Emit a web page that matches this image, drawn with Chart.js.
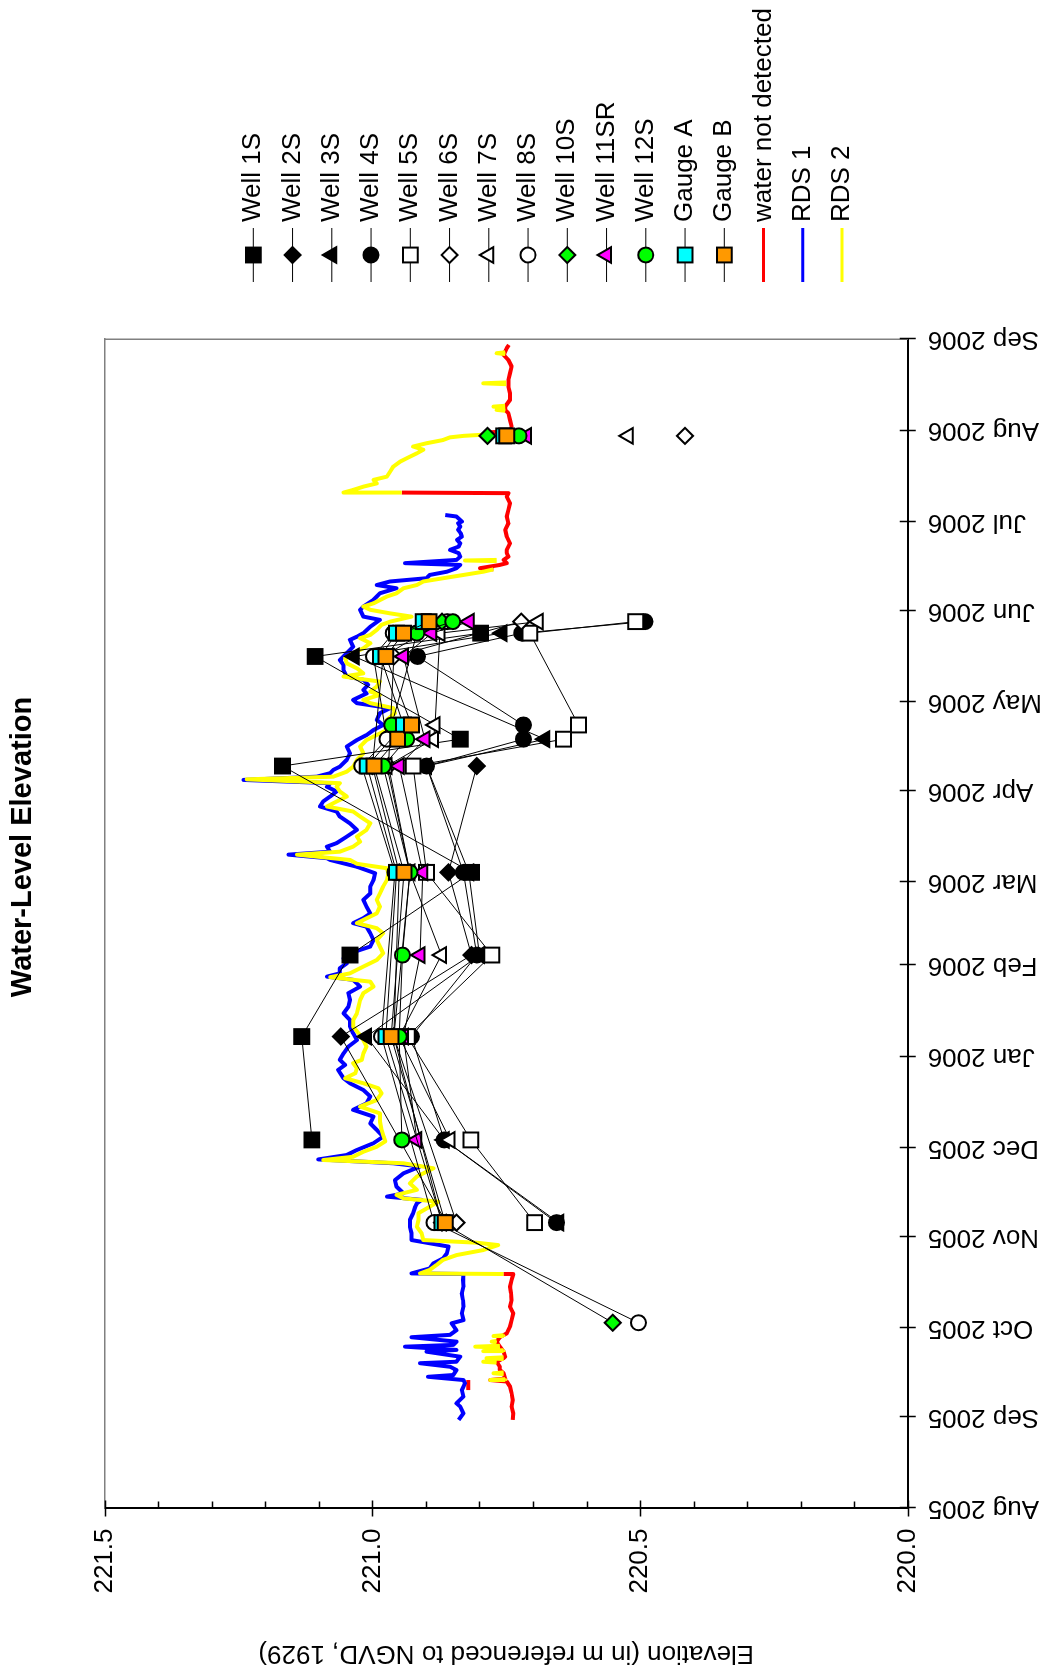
<!DOCTYPE html>
<html>
<head>
<meta charset="utf-8">
<title>Water-Level Elevation</title>
<script src="https://cdn.jsdelivr.net/npm/chart.js@4.4.1/dist/chart.umd.min.js"></script>
<style>
  html, body { margin: 0; padding: 0; background: #fff; overflow: hidden; }
  /* chart is drawn landscape, then turned a quarter to fit the portrait page */
  #page {
    position: absolute; left: 0; top: 0;
    width: 1675px; height: 1045px;
    transform-origin: 0 0;
    transform: translate(0, 1675px) rotate(-90deg);
  }
</style>
</head>
<body>
<div id="page"><canvas id="levelChart" width="1675" height="1045" style="width:1675px;height:1045px"></canvas></div>
<script>
// time axis counted in days from 1 Aug 2005
const monthTicks = [0, 31, 61, 92, 122, 153, 184, 212, 243, 273, 304, 334, 365, 396];
const monthLabels = ['Aug 2005', 'Sep 2005', 'Oct 2005', 'Nov 2005', 'Dec 2005', 'Jan 2006', 'Feb 2006',
                     'Mar 2006', 'Apr 2006', 'May 2006', 'Jun 2006', 'Jul 2006', 'Aug 2006', 'Sep 2006'];
const elevTicks = [220.0, 220.5, 221.0, 221.5];

// well / gauge survey days
const sampleDays = [62.9, 96.8, 124.8, 159.8, 187.4, 215.4, 251.4, 260.5, 265.3, 288.5, 296.4, 300.3, 363.2];

const well1S  = [null, null, 221.113, 221.132, 221.042, 220.815, 221.168, 220.836, null, 221.107, 220.798, null, null];
const well2S  = [null, 220.862, null, 221.059, 220.815, 220.858, 220.805, null, null, null, null, null, null];
const well3S  = [null, 220.652, 220.866, 221.011, 220.800, 220.820, 220.899, 220.678, null, 221.034, 220.758, null, null];
const well4S  = [null, 220.656, 220.866, 220.927, 220.805, 220.830, 220.899, 220.718, 220.718, 220.916, 220.721, 220.491, null];
const well5S  = [null, 220.697, 220.816, 220.935, 220.777, 220.899, 220.924, 220.643, 220.615, null, 220.706, 220.508, null];
const well6S  = [null, 220.843, null, 220.960, null, 220.930, 220.970, null, null, 220.960, null, 220.722, 220.416];
const well7S  = [null, null, 220.855, 220.950, 220.871, 220.930, 220.973, 220.886, 220.883, null, 220.874, 220.690, 220.522];
const well8S  = [220.503, 220.885, null, 220.983, null, 220.958, 221.020, 220.973, null, 220.998, 220.961, 220.860, null];
const well10S = [220.551, 220.870, null, 220.960, null, 220.950, 221.000, null, null, 220.980, null, 220.870, 220.785];
const well11SR = [null, null, 220.917, 220.942, 220.911, 220.906, 220.950, 220.902, null, 220.942, 220.889, 220.819, 220.712];
const well12S = [null, null, 220.945, 220.950, 220.944, 220.930, 220.980, 220.936, 220.964, null, 220.917, 220.850, 220.726];
const gaugeA  = [null, 220.870, null, 220.975, null, 220.955, 221.010, null, 220.942, 220.985, 220.955, 220.905, 220.755];
const gaugeB  = [null, 220.864, null, 220.965, null, 220.941, 220.997, 220.953, 220.927, 220.975, 220.942, 220.894, 220.749];

// recorder traces, [day, elevation]; a null elevation breaks the trace
const rds1 = [
  [30.0, 220.839], [32.2, 220.830], [34.5, 220.836], [35.6, 220.843], [37.9, 220.830], [40.1, 220.833], [42.4, 220.827],
  [43.5, 220.830], [44.6, 220.896], [45.2, 220.849], [46.9, 220.843], [48.0, 220.855], [49.2, 220.911], [49.7, 220.843],
  [51.4, 220.836], [53.1, 220.899], [53.7, 220.843], [54.8, 220.939], [55.4, 220.849], [56.5, 220.843], [58.0, 220.927],
  [58.8, 220.855], [60.4, 220.843], [62.7, 220.852], [63.8, 220.830], [66.1, 220.833], [68.3, 220.830], [70.6, 220.831],
  [72.9, 220.833], [75.1, 220.830], [77.4, 220.831], [79.4, 220.830], [79.6, 220.927], [81.3, 220.893], [83.0, 220.886],
  [84.7, 220.868], [86.4, 220.861], [88.7, 220.858], [90.9, 220.927], [93.2, 220.927], [95.4, 220.930], [97.7, 220.930],
  [100.0, 220.924], [102.2, 220.920], [103.3, 220.917], [104.5, 220.908], [105.6, 220.973], [106.7, 220.942], [109.0, 220.955],
  [111.2, 220.958], [113.5, 220.942], [115.8, 220.911], [116.9, 220.961], [118.2, 221.101], [119.7, 221.048], [121.4, 221.029],
  [123.7, 220.998], [125.9, 220.980], [128.2, 220.992], [130.4, 221.004], [132.7, 220.998], [135.0, 221.036], [137.2, 221.011],
  [139.5, 221.004], [141.7, 221.017], [144.0, 221.042], [145.7, 221.054], [148.5, 221.064], [150.2, 221.051], [151.9, 221.061],
  [154.1, 221.054], [156.4, 221.045], [158.6, 221.029], [160.9, 221.036], [163.2, 221.042], [165.4, 221.042], [167.7, 221.054],
  [169.9, 221.045], [172.2, 221.042], [174.5, 221.045], [176.7, 221.023], [177.8, 221.029], [179.0, 221.036], [180.1, 221.085],
  [181.2, 221.061], [182.9, 221.061], [184.6, 221.048], [186.3, 221.054], [188.0, 221.042], [190.3, 221.004], [192.5, 220.998],
  [194.8, 221.004], [197.0, 221.011], [198.2, 221.036], [199.9, 221.017], [201.5, 221.004], [203.8, 221.011], [206.1, 221.017],
  [208.3, 221.004], [210.6, 221.004], [212.8, 220.998], [215.1, 220.995], [217.3, 221.029], [217.9, 221.042], [219.6, 221.079],
  [220.2, 221.085], [221.4, 221.157], [222.4, 221.079], [224.1, 221.085], [225.3, 221.067], [227.5, 221.048], [229.8, 221.029],
  [232.0, 221.042], [234.3, 221.061], [236.0, 221.067], [237.7, 221.098], [239.4, 221.092], [241.1, 221.079], [242.8, 221.067],
  [244.4, 221.085], [245.6, 221.079], [246.7, 221.241], [247.8, 221.104], [249.0, 221.079], [250.1, 221.073], [251.2, 221.061],
  [253.5, 221.048], [255.7, 221.042], [258.0, 221.048], [260.2, 221.029], [261.9, 221.011], [263.6, 220.998], [265.3, 220.980],
  [267.0, 220.992], [269.3, 220.986], [271.0, 220.967], [272.7, 221.029], [273.8, 221.036], [276.0, 221.011], [277.2, 221.017],
  [278.9, 221.008], [280.6, 221.017], [281.7, 221.048], [283.9, 221.054], [285.6, 221.054], [287.3, 221.061], [289.6, 221.048],
  [291.8, 221.036], [294.1, 221.042], [295.2, 221.029], [296.4, 221.017], [298.6, 221.004], [300.9, 220.986], [302.0, 221.017],
  [304.3, 221.023], [305.4, 221.017], [307.7, 220.998], [308.8, 220.992], [309.9, 220.986], [311.6, 220.955], [312.7, 220.992],
  [313.9, 220.967], [315.0, 220.899], [316.1, 220.893], [317.2, 220.861], [318.4, 220.843], [319.5, 220.836], [320.1, 220.939],
  [321.2, 220.843], [322.3, 220.836], [323.5, 220.839], [324.6, 220.855], [325.7, 220.839], [326.8, 220.836], [328.0, 220.842],
  [329.1, 220.833], [330.2, 220.835], [331.4, 220.840], [332.5, 220.836], [333.6, 220.840], [334.2, 220.833], [335.9, 220.843],
  [336.4, 220.864]
];

const rds2 = [
  [43.2, 220.752], [43.5, 220.780], [43.8, 220.752], [43.9, null],
  [45.5, 220.755], [45.8, 220.774], [46.1, 220.755], [46.2, null],
  [49.4, 220.768], [49.7, 220.793], [50.0, 220.768], [50.1, null],
  [50.6, 220.755], [50.9, 220.787], [51.2, 220.755], [51.3, null],
  [53.0, 220.755], [53.3, 220.793], [53.6, 220.755], [53.7, null],
  [54.5, 220.762], [54.8, 220.808], [55.1, 220.762], [55.2, null],
  [56.2, 220.768], [56.5, 220.777], [56.8, 220.768], [56.9, null],
  [58.1, 220.755], [58.4, 220.774], [58.7, 220.755], [58.8, null],
  [79.4, 220.755], [79.6, 220.911], [80.8, 220.893], [82.5, 220.880], [84.2, 220.868], [85.8, 220.843], [87.5, 220.793],
  [89.2, 220.765], [90.0, 220.805], [90.9, 220.905], [93.2, 220.908], [95.4, 220.917], [97.7, 220.914], [100.0, 220.914],
  [102.2, 220.893], [103.9, 220.877], [105.0, 220.942], [106.2, 220.955], [107.9, 220.917], [110.1, 220.930], [112.4, 220.917],
  [115.2, 220.886], [116.9, 220.942], [118.0, 221.092], [119.1, 221.036], [120.8, 221.017], [122.5, 220.992], [124.3, 220.976],
  [126.5, 220.980], [128.2, 220.983], [131.0, 220.986], [133.8, 220.986], [136.1, 221.023], [138.3, 220.992], [140.6, 220.983],
  [142.3, 220.989], [144.0, 221.017], [145.7, 221.051], [147.4, 221.032], [149.1, 221.029], [150.8, 221.036], [151.9, 221.020],
  [154.1, 221.017], [156.4, 221.011], [158.6, 221.017], [160.9, 221.026], [163.2, 221.036], [165.4, 221.036], [167.7, 221.029],
  [169.9, 221.026], [172.2, 221.023], [174.5, 221.017], [176.7, 220.998], [178.4, 221.004], [179.9, 221.079], [181.2, 221.042],
  [183.5, 221.017], [185.7, 220.992], [188.0, 220.980], [190.3, 220.986], [192.5, 220.992], [194.8, 220.980], [196.5, 220.992],
  [198.2, 221.029], [199.3, 221.017], [201.5, 220.992], [203.8, 220.986], [206.1, 220.992], [208.3, 220.986], [210.6, 220.980],
  [212.8, 220.973], [215.1, 220.970], [216.8, 220.973], [218.3, 221.029], [219.6, 221.042], [221.4, 221.141], [222.4, 221.061],
  [224.1, 221.036], [225.8, 221.023], [227.5, 221.029], [229.8, 221.011], [232.0, 221.004], [234.3, 221.023], [236.0, 221.036],
  [237.7, 221.085], [239.4, 221.067], [241.1, 221.048], [242.8, 221.061], [244.4, 221.067], [245.6, 221.061], [246.9, 221.235],
  [247.8, 221.073], [249.5, 221.048], [251.2, 221.036], [253.5, 221.029], [255.7, 221.017], [258.0, 221.023], [260.2, 221.011],
  [261.9, 220.992], [263.6, 220.973], [267.0, 220.973], [269.3, 220.958], [271.0, 220.961], [272.7, 221.004], [273.8, 221.017],
  [275.5, 220.986], [276.6, 221.004], [278.3, 220.992], [280.0, 220.986], [281.7, 221.054], [282.8, 221.017], [284.5, 221.029],
  [286.2, 221.048], [287.9, 221.051], [289.6, 221.036], [291.3, 221.017], [293.0, 221.004], [294.7, 221.023], [295.8, 221.004],
  [297.5, 220.992], [299.2, 220.983], [300.3, 220.967], [302.0, 220.927], [303.1, 220.967], [304.3, 221.004], [305.4, 221.017],
  [306.5, 220.998], [308.8, 220.973], [309.9, 220.955], [311.6, 220.942], [312.7, 220.917], [313.9, 220.905], [315.0, 220.868],
  [316.1, 220.830], [317.2, 220.793], [318.0, 220.774], [318.1, null],
  [320.8, 220.768], [321.0, 220.827], [321.2, 220.768], [321.3, null],
  [344.0, 220.945], [344.0, 221.054], [344.9, 221.036], [346.0, 221.017], [347.1, 220.992], [348.3, 220.998], [349.4, 220.973],
  [351.1, 220.967], [352.8, 220.961], [354.5, 220.948], [355.6, 220.936], [357.3, 220.917], [358.5, 220.905], [359.6, 220.924],
  [360.7, 220.899], [361.8, 220.868], [362.7, 220.855], [363.2, 220.830], [363.6, 220.793], [364.4, 220.785], [364.5, null],
  [371.7, 220.752], [372.0, 220.768], [372.3, 220.752], [372.4, null],
  [372.8, 220.752], [373.1, 220.774], [373.4, 220.752], [373.5, null],
  [380.7, 220.750], [381.0, 220.793], [381.3, 220.750], [381.4, null],
  [390.9, 220.752], [391.2, 220.768], [391.5, 220.752]
];

const notDetected = [
  [30.0, 220.738], [32.2, 220.737], [34.5, 220.740], [36.7, 220.738], [39.0, 220.740], [41.3, 220.743], [43.0, 220.749],
  [43.5, 220.780], [44.0, 220.752], [45.8, 220.755], [46.9, 220.762], [48.0, 220.762], [49.7, 220.768], [50.9, 220.755],
  [51.4, 220.752], [53.1, 220.755], [54.8, 220.762], [56.5, 220.768], [58.0, 220.762], [59.3, 220.749], [61.6, 220.743],
  [63.8, 220.740], [66.1, 220.737], [68.3, 220.743], [70.6, 220.740], [72.9, 220.741], [75.1, 220.743], [77.4, 220.740],
  [79.3, 220.737], [79.4, 220.755], [79.5, null],
  [318.0, 220.774], [318.4, 220.799], [319.5, 220.762], [320.1, 220.749], [321.2, 220.755], [322.3, 220.746], [323.5, 220.749],
  [324.6, 220.749], [326.8, 220.743], [329.1, 220.749], [331.4, 220.752], [333.6, 220.746], [335.9, 220.749], [338.1, 220.746],
  [340.4, 220.743], [342.6, 220.749], [343.8, 220.746], [344.0, 220.945], [344.1, null],
  [364.4, 220.785], [364.7, 220.742], [366.4, 220.740], [368.6, 220.743], [370.9, 220.746], [372.0, 220.752], [373.1, 220.752],
  [375.4, 220.743], [377.6, 220.743], [379.9, 220.746], [382.1, 220.746], [384.4, 220.743], [386.7, 220.740], [388.9, 220.746],
  [390.6, 220.755], [392.9, 220.749], [394.0, 220.745], [394.1, null],
  [40.1, 220.821], [43.5, 220.821]
];

const FONT = '"Liberation Sans", Arial, Helvetica, sans-serif';
Chart.defaults.font.family = FONT;
Chart.defaults.color = '#000';

// marker look for each well / gauge
const wellSeries = [
  { label: 'Well 1S',   values: well1S,   style: 'rect',     radius: 10.5, fill: '#000000' },
  { label: 'Well 2S',   values: well2S,   style: 'rectRot',  radius: 8,    fill: '#000000' },
  { label: 'Well 3S',   values: well3S,   style: 'triangle', radius: 9,    fill: '#000000' },
  { label: 'Well 4S',   values: well4S,   style: 'circle',   radius: 7.5,  fill: '#000000' },
  { label: 'Well 5S',   values: well5S,   style: 'rect',     radius: 10.5, fill: '#ffffff' },
  { label: 'Well 6S',   values: well6S,   style: 'rectRot',  radius: 8,    fill: '#ffffff' },
  { label: 'Well 7S',   values: well7S,   style: 'triangle', radius: 9,    fill: '#ffffff' },
  { label: 'Well 8S',   values: well8S,   style: 'circle',   radius: 7.5,  fill: '#ffffff' },
  { label: 'Well 10S',  values: well10S,  style: 'rectRot',  radius: 8,    fill: '#00ff00' },
  { label: 'Well 11SR', values: well11SR, style: 'triangle', radius: 9,    fill: '#ff00ff' },
  { label: 'Well 12S',  values: well12S,  style: 'circle',   radius: 7.5,  fill: '#00ff00' },
  { label: 'Gauge A',   values: gaugeA,   style: 'rect',     radius: 10.5, fill: '#00ffff' },
  { label: 'Gauge B',   values: gaugeB,   style: 'rect',     radius: 10.5, fill: '#ff9900' }
];

const traceSeries = [
  { label: 'water not detected', points: notDetected, color: '#ff0000', order: 30 },
  { label: 'RDS 1', points: rds1, color: '#0000ff', order: 20 },
  { label: 'RDS 2', points: rds2, color: '#ffff00', order: 10 }
];

// the late-July survey stands alone: no tie line back to the May visits
const hideLongGap = ctx => (ctx.p1.parsed.x - ctx.p0.parsed.x > 50 ? 'rgba(0,0,0,0)' : undefined);

const datasets = [
  ...wellSeries.map((w, i) => ({
    label: w.label,
    data: sampleDays.map((d, j) => ({ x: d, y: w.values[j] })),
    xAxisID: 'x', yAxisID: 'y',
    borderColor: '#000', borderWidth: 1,
    segment: { borderColor: hideLongGap },
    pointStyle: w.style, pointRadius: w.radius,
    pointBackgroundColor: w.fill, pointBorderColor: '#000', pointBorderWidth: 2,
    spanGaps: true, order: -i
  })),
  ...traceSeries.map(t => ({
    label: t.label,
    data: t.points.map(p => ({ x: p[0], y: p[1] })),
    xAxisID: 'x', yAxisID: 'y',
    borderColor: t.color, borderWidth: 4, borderJoinStyle: 'round',
    pointRadius: 0, spanGaps: false, tension: 0, order: t.order
  }))
];

// major / minor tick marks that cross the axis lines
const axisMarks = {
  id: 'axisMarks',
  afterDraw(chart) {
    const { ctx, chartArea: a, scales: { x, y } } = chart;
    ctx.save();
    ctx.strokeStyle = '#000';
    ctx.lineWidth = 1.5;
    ctx.beginPath();
    for (let k = 0; k <= 15; k++) {
      const py = Math.round(y.getPixelForValue(220 + k / 10)) + 0.5;
      if (k % 5 === 0) { ctx.moveTo(a.left - 8, py); ctx.lineTo(a.left + 8, py); }
      else { ctx.moveTo(a.left, py); ctx.lineTo(a.left + 7, py); }
    }
    monthTicks.forEach(d => {
      const px = Math.round(x.getPixelForValue(d)) + 0.5;
      ctx.moveTo(px, a.bottom - 8);
      ctx.lineTo(px, a.bottom + 8);
    });
    ctx.stroke();
    ctx.restore();
  }
};

// legend to the right: a short line with the marker in the middle
const sideLegend = {
  id: 'sideLegend',
  afterDraw(chart) {
    const { ctx, chartArea: a } = chart;
    ctx.save();
    ctx.font = '26px ' + FONT;
    ctx.textBaseline = 'middle';
    chart.data.datasets.forEach((ds, i) => {
      const cy = a.top + 148.5 + 39.25 * i;
      const x0 = a.right + 57, x1 = a.right + 111, cx = a.right + 84;
      ctx.beginPath();
      ctx.moveTo(x0, cy);
      ctx.lineTo(x1, cy);
      ctx.strokeStyle = ds.borderColor;
      ctx.lineWidth = ds.pointRadius > 0 ? 1 : 3;
      ctx.stroke();
      if (ds.pointRadius > 0) {
        ctx.fillStyle = ds.pointBackgroundColor;
        ctx.strokeStyle = '#000';
        ctx.lineWidth = 2;
        Chart.helpers.drawPoint(ctx, { pointStyle: ds.pointStyle, radius: ds.pointRadius, rotation: 0, borderWidth: 2 }, cx, cy);
      }
      ctx.fillStyle = '#000';
      ctx.fillText(ds.label, a.right + 117, cy);
    });
    ctx.restore();
  }
};

const frameAxis = {
  display: true,
  grid: { display: false, drawTicks: false },
  ticks: { display: false },
  border: { display: true, color: '#808080', width: 1.5 }
};

new Chart(document.getElementById('levelChart'), {
  type: 'line',
  data: { datasets },
  options: {
    responsive: false,
    devicePixelRatio: 1,
    animation: false,
    events: [],
    layout: { padding: { left: 0, right: 19, top: 0, bottom: 0 } },
    plugins: {
      legend: { display: false },
      tooltip: { enabled: false },
      title: {
        display: true,
        text: 'Water-Level Elevation',
        color: '#000',
        font: { size: 29, weight: 'bold' },
        padding: { top: 6, bottom: 64 }
      }
    },
    scales: {
      x: {
        type: 'linear', position: 'bottom', min: 0, max: 396,
        afterBuildTicks: s => { s.ticks = monthTicks.map(v => ({ value: v })); },
        afterFit: s => { s.height = 137.3; },
        grid: { display: false, drawTicks: false },
        border: { display: true, color: '#000', width: 2 },
        ticks: {
          autoSkip: false, minRotation: 90, maxRotation: 90, padding: 20,
          font: { size: 26 },
          callback: v => monthLabels[monthTicks.indexOf(v)]
        }
      },
      y: {
        type: 'linear', position: 'left', min: 220, max: 221.5,
        afterBuildTicks: s => { s.ticks = elevTicks.map(v => ({ value: v })); },
        afterFit: s => { s.width = 166.5; },
        grid: { display: false, drawTicks: false },
        border: { display: true, color: '#000', width: 2 },
        ticks: { padding: 20, font: { size: 26 }, callback: v => Number(v).toFixed(1) },
        title: {
          display: true,
          text: 'Elevation (in m referenced to NGVD, 1929)',
          font: { size: 26 },
          padding: { top: 6, bottom: 0 }
        }
      },
      xTop: { ...frameAxis, type: 'linear', position: 'top', min: 0, max: 396, afterFit: s => { s.height = 0; } },
      yRight: { ...frameAxis, type: 'linear', position: 'right', min: 220, max: 221.5, afterFit: s => { s.width = 320; } }
    }
  },
  plugins: [axisMarks, sideLegend]
});
</script>
</body>
</html>
